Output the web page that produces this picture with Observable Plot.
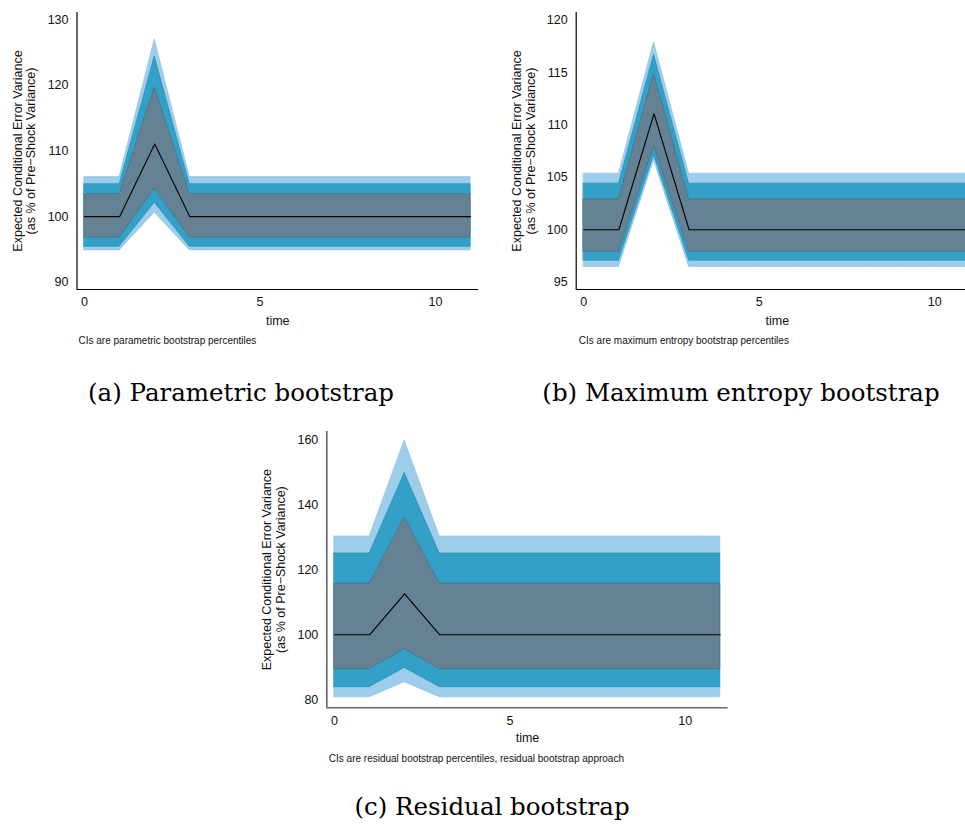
<!DOCTYPE html>
<html>
<head>
<meta charset="utf-8">
<script src="https://cdn.jsdelivr.net/npm/d3@7"></script>
<script src="https://cdn.jsdelivr.net/npm/@observablehq/plot@0.6"></script>
<style>
  html, body { margin: 0; padding: 0; background: #fff; overflow: hidden; width: 965px; height: 825px; }
  .panel { position: absolute; width: 490px; height: 350px; }
  .panel svg { max-width: none !important; }
  .sub { position: absolute; font-family: "DejaVu Serif", serif; font-size: 24.5px; line-height: 1; white-space: nowrap; transform: translateX(-50%); color: #000; }
</style>
</head>
<body>
<div id="pa" class="panel" style="left:0px;top:0px"></div>
<div id="pb" class="panel" style="left:500px;top:0px"></div>
<div id="pc" class="panel" style="left:250px;top:420px"></div>
<div class="sub" style="left:241px;top:381px">(a) Parametric bootstrap</div>
<div class="sub" style="left:741px;top:381px">(b) Maximum entropy bootstrap</div>
<div class="sub" style="left:492px;top:795px">(c) Residual bootstrap</div>
<script>
// ---- data ----
const time = [0, 1, 2, 3, 4, 5, 6, 7, 8, 9, 10, 11];
const xTicks = [0, 5, 10];

// (a) parametric bootstrap
const aMedian  = [100, 100, 111.05, 100, 100, 100, 100, 100, 100, 100, 100, 100];
const aInnerHi = [103.4, 103.4, 119.7, 103.4, 103.4, 103.4, 103.4, 103.4, 103.4, 103.4, 103.4, 103.4];
const aInnerLo = [96.8, 96.8, 104.3, 96.8, 96.8, 96.8, 96.8, 96.8, 96.8, 96.8, 96.8, 96.8];
const aMidHi   = [104.95, 104.95, 124.4, 104.95, 104.95, 104.95, 104.95, 104.95, 104.95, 104.95, 104.95, 104.95];
const aMidLo   = [95.4, 95.4, 102.1, 95.4, 95.4, 95.4, 95.4, 95.4, 95.4, 95.4, 95.4, 95.4];
const aOuterHi = [106.05, 106.05, 127.0, 106.05, 106.05, 106.05, 106.05, 106.05, 106.05, 106.05, 106.05, 106.05];
const aOuterLo = [94.85, 94.85, 100.6, 94.85, 94.85, 94.85, 94.85, 94.85, 94.85, 94.85, 94.85, 94.85];
const aYTicks  = [90, 100, 110, 120, 130];

// (b) maximum entropy bootstrap
const bMedian  = [100, 100, 111.07, 100, 100, 100, 100, 100, 100, 100, 100, 100];
const bInnerHi = [102.9, 102.9, 114.9, 102.9, 102.9, 102.9, 102.9, 102.9, 102.9, 102.9, 102.9, 102.9];
const bInnerLo = [97.9, 97.9, 108.0, 97.9, 97.9, 97.9, 97.9, 97.9, 97.9, 97.9, 97.9, 97.9];
const bMidHi   = [104.4, 104.4, 116.7, 104.4, 104.4, 104.4, 104.4, 104.4, 104.4, 104.4, 104.4, 104.4];
const bMidLo   = [97.05, 97.05, 107.1, 97.05, 97.05, 97.05, 97.05, 97.05, 97.05, 97.05, 97.05, 97.05];
const bOuterHi = [105.35, 105.35, 117.9, 105.35, 105.35, 105.35, 105.35, 105.35, 105.35, 105.35, 105.35, 105.35];
const bOuterLo = [96.45, 96.45, 106.6, 96.45, 96.45, 96.45, 96.45, 96.45, 96.45, 96.45, 96.45, 96.45];
const bYTicks  = [95, 100, 105, 110, 115, 120];

// (c) residual bootstrap
const cMedian  = [100, 100, 112.6, 100, 100, 100, 100, 100, 100, 100, 100, 100];
const cInnerHi = [115.7, 115.7, 136.1, 115.7, 115.7, 115.7, 115.7, 115.7, 115.7, 115.7, 115.7, 115.7];
const cInnerLo = [89.4, 89.4, 95.6, 89.4, 89.4, 89.4, 89.4, 89.4, 89.4, 89.4, 89.4, 89.4];
const cMidHi   = [125.0, 125.0, 149.7, 125.0, 125.0, 125.0, 125.0, 125.0, 125.0, 125.0, 125.0, 125.0];
const cMidLo   = [83.9, 83.9, 89.8, 83.9, 83.9, 83.9, 83.9, 83.9, 83.9, 83.9, 83.9, 83.9];
const cOuterHi = [130.2, 130.2, 159.7, 130.2, 130.2, 130.2, 130.2, 130.2, 130.2, 130.2, 130.2, 130.2];
const cOuterLo = [80.8, 80.8, 85.4, 80.8, 80.8, 80.8, 80.8, 80.8, 80.8, 80.8, 80.8, 80.8];
const cYTicks  = [80, 100, 120, 140, 160];

const yTitle1 = "Expected Conditional Error Variance";
const yTitle2 = "(as % of Pre\u2212Shock Variance)";
const xTitle = "time";
const notes = {
  a: "CIs are parametric bootstrap percentiles",
  b: "CIs are maximum entropy bootstrap percentiles",
  c: "CIs are residual bootstrap percentiles, residual bootstrap approach"
};

const colLight = "#9dcdea", colLightEdge = "#86bfe0";
const colMid = "#33a0c8", colMidEdge = "#1f8ab4";
const colDark = "#648293", colDarkEdge = "#4c6a7b";
const font = "'Liberation Sans', Arial, Helvetica, sans-serif";

function panel(cfg) {
  const rows = time.map((t, i) => ({
    t, med: cfg.median[i],
    iLo: cfg.innerLo[i], iHi: cfg.innerHi[i],
    mLo: cfg.midLo[i], mHi: cfg.midHi[i],
    oLo: cfg.outerLo[i], oHi: cfg.outerHi[i]
  }));
  return Plot.plot({
    width: cfg.width, height: cfg.height,
    marginLeft: cfg.ml, marginRight: cfg.mr, marginTop: cfg.mt, marginBottom: cfg.mb,
    style: { fontFamily: font, fontSize: "12.5px", background: "transparent", color: "#111", overflow: "visible", maxWidth: "none" },
    x: { domain: cfg.xDomain, ticks: xTicks, tickSize: 0, tickPadding: 8, label: null },
    y: { domain: cfg.yDomain, ticks: cfg.yTicks, tickSize: 0, tickPadding: 8.5, label: null },
    marks: [
      Plot.areaY(rows, { x: "t", y1: "oLo", y2: "oHi", fill: colLight, stroke: colLightEdge, strokeWidth: 0.6 }),
      Plot.areaY(rows, { x: "t", y1: "mLo", y2: "mHi", fill: colMid, stroke: colMidEdge, strokeWidth: 0.6 }),
      Plot.areaY(rows, { x: "t", y1: "iLo", y2: "iHi", fill: colDark, stroke: colDarkEdge, strokeWidth: 0.6 }),
      Plot.lineY(rows, { x: "t", y: "med", stroke: "#000", strokeWidth: 1.1 }),
      Plot.ruleX([cfg.xDomain[0]], { stroke: cfg.axisColor, strokeWidth: cfg.axisWidth }),
      Plot.ruleY([cfg.yDomain[0]], { stroke: cfg.axisColor, strokeWidth: cfg.axisWidth }),
      Plot.text([yTitle1], { frameAnchor: "left", rotate: -90, dx: cfg.t1dx, textAnchor: "middle", lineAnchor: "middle", fontSize: 12.5, fill: "#111" }),
      Plot.text([yTitle2], { frameAnchor: "left", rotate: -90, dx: cfg.t2dx, textAnchor: "middle", lineAnchor: "middle", fontSize: 12.5, fill: "#111" }),
      Plot.text([xTitle], { frameAnchor: "bottom", dy: cfg.xtdy, lineAnchor: "middle", fontSize: 12.5, fill: "#111" }),
      Plot.text([cfg.note], { frameAnchor: "bottom-left", textAnchor: "start", lineAnchor: "middle", dx: cfg.ndx, dy: cfg.ndy, fontSize: 10, fill: "#111" })
    ]
  });
}

document.getElementById("pa").appendChild(panel({
  width: 490, height: 350, ml: 76.5, mr: 12, mt: 12, mb: 61,
  xDomain: [-0.214, 11.225], yDomain: [88.9, 131.1], yTicks: aYTicks,
  median: aMedian, innerLo: aInnerLo, innerHi: aInnerHi, midLo: aMidLo, midHi: aMidHi, outerLo: aOuterLo, outerHi: aOuterHi,
  axisColor: "#000", axisWidth: 1.2, t1dx: -59.5, t2dx: -46.5, xtdy: 31, ndx: 1.5, ndy: 51.7, note: notes.a
}));

document.getElementById("pb").appendChild(panel({
  width: 490, height: 350, ml: 75.7, mr: 12, mt: 12, mb: 61,
  xDomain: [-0.217, 11.245], yDomain: [94.3, 120.73], yTicks: bYTicks,
  median: bMedian, innerLo: bInnerLo, innerHi: bInnerHi, midLo: bMidLo, midHi: bMidHi, outerLo: bOuterLo, outerHi: bOuterHi,
  axisColor: "#000", axisWidth: 1.2, t1dx: -59, t2dx: -45.7, xtdy: 31, ndx: 2.6, ndy: 51.7, note: notes.b
}));

document.getElementById("pc").appendChild(panel({
  width: 490, height: 350, ml: 76.3, mr: 12.3, mt: 11, mb: 62.7,
  xDomain: [-0.22, 11.226], yDomain: [77.57, 162.46], yTicks: cYTicks,
  median: cMedian, innerLo: cInnerLo, innerHi: cInnerHi, midLo: cMidLo, midHi: cMidHi, outerLo: cOuterLo, outerHi: cOuterHi,
  axisColor: "#666", axisWidth: 1.6, t1dx: -59.6, t2dx: -46.3, xtdy: 30, ndx: 2, ndy: 51.4, note: notes.c
}));
</script>
</body>
</html>
